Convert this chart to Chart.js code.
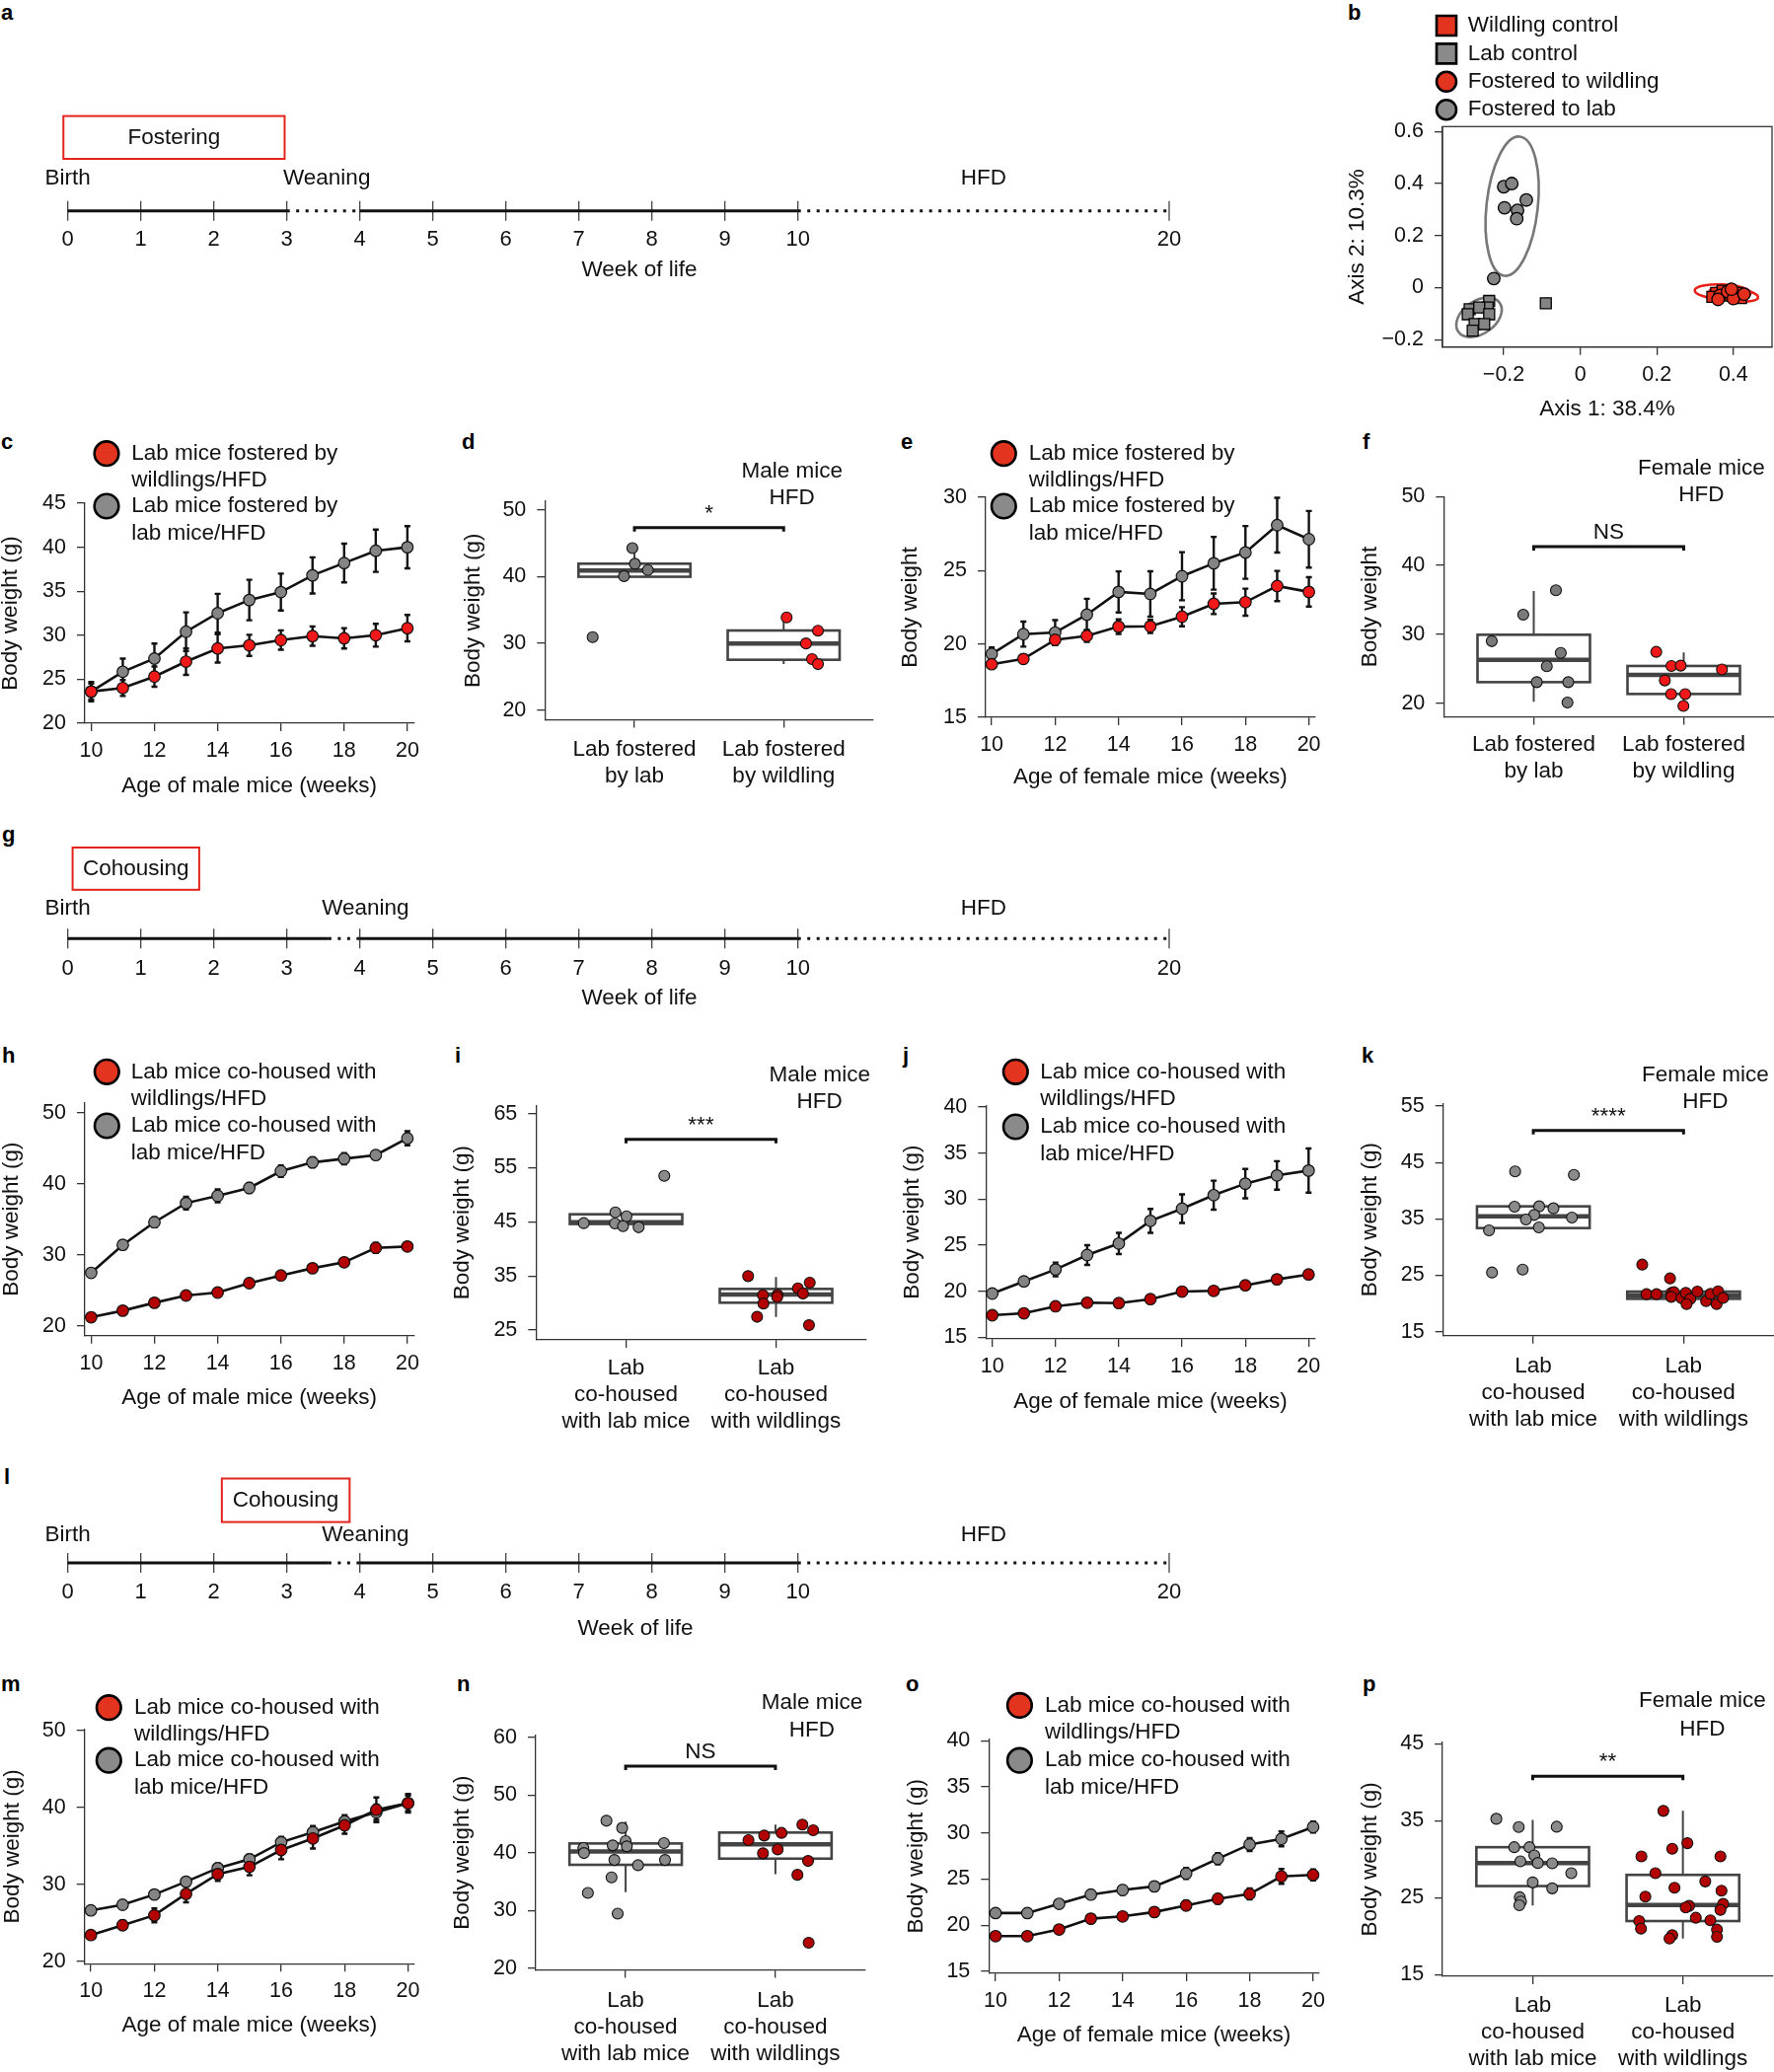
<!DOCTYPE html>
<html>
<head>
<meta charset="utf-8">
<title>Body weight of fostered and co-housed lab mice</title>
<script src="https://cdn.jsdelivr.net/npm/chart.js@4.4.1/dist/chart.umd.min.js"></script>
<style>
  html, body { margin: 0; padding: 0; background: #fff; }
  body { position: relative; width: 1798px; height: 2100px; overflow: hidden; font-family: "Liberation Sans", Arial, sans-serif; }
  canvas { position: absolute; }
  .tag { position: absolute; font-weight: bold; font-size: 22px; line-height: 22px; color: #000; }
</style>
</head>
<body>
<div class="tag" style="left:1px;top:2px">a</div>
<div class="tag" style="left:1366px;top:2px">b</div>
<div class="tag" style="left:1px;top:437px">c</div>
<div class="tag" style="left:468px;top:437px">d</div>
<div class="tag" style="left:913px;top:437px">e</div>
<div class="tag" style="left:1381px;top:437px">f</div>
<div class="tag" style="left:2px;top:835px">g</div>
<div class="tag" style="left:2px;top:1059px">h</div>
<div class="tag" style="left:461px;top:1059px">i</div>
<div class="tag" style="left:915px;top:1059px">j</div>
<div class="tag" style="left:1380px;top:1059px">k</div>
<div class="tag" style="left:4px;top:1486px">l</div>
<div class="tag" style="left:1px;top:1696px">m</div>
<div class="tag" style="left:463px;top:1696px">n</div>
<div class="tag" style="left:918px;top:1696px">o</div>
<div class="tag" style="left:1381px;top:1696px">p</div>
<script>
// ---- timelines (a, g, l) ----
const tlWeeks = [0, 1, 2, 3, 4, 5, 6, 7, 8, 9, 10, 20];
const aSolid = [[0, 3], [4, 10]];
const aDotted = [[3, 4], [10, 20]];
const coSolid = [[0, 3.57], [4, 10]];
const coDotted = [[3.57, 4], [10, 20]];

// ---- growth curves, weeks 10-20 ----
const weeks = [10, 11, 12, 13, 14, 15, 16, 17, 18, 19, 20];
const weekTicks = [10, 12, 14, 16, 18, 20];
const fosterLabels = [['Lab mice fostered by', 'wildlings/HFD'], ['Lab mice fostered by', 'lab mice/HFD']];
const cohouseLabels = [['Lab mice co-housed with', 'wildlings/HFD'], ['Lab mice co-housed with', 'lab mice/HFD']];

// c: fostering, male
const cWild = [23.6, 24.0, 25.3, 27.0, 28.5, 28.85, 29.45, 29.9, 29.65, 30.0, 30.8];
const cWildErr = [0.9, 0.9, 1.15, 1.5, 1.6, 1.2, 1.1, 1.1, 1.15, 1.3, 1.5];
const cLab = [23.6, 25.85, 27.35, 30.4, 32.5, 34.0, 34.9, 36.8, 38.2, 39.6, 40.0];
const cLabErr = [1.1, 1.5, 1.7, 2.2, 2.2, 2.3, 2.1, 2.05, 2.2, 2.4, 2.4];
const cTicks = [20, 25, 30, 35, 40, 45];
// e: fostering, female
const eWild = [18.62, 18.98, 20.28, 20.55, 21.18, 21.2, 21.86, 22.74, 22.85, 23.95, 23.55];
const eWildErr = [0.25, 0.3, 0.35, 0.4, 0.5, 0.45, 0.65, 0.7, 0.92, 1.03, 1.0];
const eLab = [19.32, 20.67, 20.78, 22.0, 23.55, 23.41, 24.62, 25.5, 26.24, 28.1, 27.14];
const eLabErr = [0.45, 0.85, 0.85, 1.08, 1.4, 1.55, 1.64, 1.8, 1.8, 1.87, 1.93];
const eTicks = [15, 20, 25, 30];
// h: co-housing from birth, male
const hWild = [21.2, 22.13, 23.24, 24.26, 24.68, 26.0, 27.08, 28.1, 28.94, 30.97, 31.16];
const hWildErr = [0.3, 0.3, 0.3, 0.3, 0.3, 0.3, 0.4, 0.3, 0.4, 0.7, 0.4];
const hLab = [27.45, 31.39, 34.58, 37.27, 38.29, 39.4, 41.76, 43.0, 43.52, 44.03, 46.39];
const hLabErr = [0.4, 0.6, 0.7, 0.9, 0.9, 0.7, 0.8, 0.7, 0.8, 0.4, 1.0];
const hTicks = [20, 30, 40, 50];
// j: co-housing from birth, female
const jWild = [17.39, 17.6, 18.36, 18.75, 18.71, 19.14, 19.96, 20.04, 20.64, 21.29, 21.82];
const jWildErr = [0.2, 0.2, 0.25, 0.2, 0.25, 0.25, 0.25, 0.25, 0.25, 0.25, 0.3];
const jLab = [19.75, 21.07, 22.36, 23.93, 25.18, 27.64, 28.96, 30.43, 31.68, 32.57, 33.1];
const jLabErr = [0.3, 0.4, 0.75, 1.07, 1.15, 1.3, 1.55, 1.57, 1.6, 1.55, 2.4];
const jTicks = [15, 20, 25, 30, 35, 40];
// m: co-housing from week 2, male
const mWild = [23.43, 24.71, 26.0, 28.79, 31.36, 32.3, 34.49, 35.99, 37.7, 39.72, 40.57];
const mWildErr = [0.4, 0.6, 0.9, 1.1, 0.9, 1.1, 1.2, 1.3, 1.1, 1.6, 1.2];
const mLab = [26.64, 27.37, 28.7, 30.37, 32.13, 33.29, 35.5, 36.8, 38.2, 39.4, 40.57];
const mLabErr = [0.3, 0.3, 0.4, 0.5, 0.6, 0.6, 0.7, 0.8, 0.8, 1.0, 1.0];
const mTicks = [20, 30, 40, 50];
// o: co-housing from week 2, female
const oWild = [18.82, 18.82, 19.54, 20.71, 20.96, 21.43, 22.14, 22.86, 23.39, 25.29, 25.46];
const oWildErr = [0.3, 0.3, 0.3, 0.3, 0.3, 0.4, 0.5, 0.5, 0.6, 0.8, 0.6];
const oLab = [21.32, 21.32, 22.32, 23.32, 23.82, 24.21, 25.61, 27.21, 28.75, 29.36, 30.64];
const oLabErr = [0.3, 0.3, 0.3, 0.4, 0.5, 0.5, 0.6, 0.6, 0.7, 0.8, 0.6];
const oTicks = [15, 20, 25, 30, 35, 40];

// ---- end-point weights (box panels); box = [q1, median, q3, whisker low, whisker high] ----
const fosterCats = [['Lab fostered', 'by lab'], ['Lab fostered', 'by wildling']];
const cohouseCats = [['Lab', 'co-housed', 'with lab mice'], ['Lab', 'co-housed', 'with wildlings']];

const dLabX = [0.72, 0.986, 1.003, 0.93, 1.09];
const dLabY = [30.95, 44.3, 41.95, 40.1, 41.0];
const dWildX = [2.02, 2.23, 2.15, 2.19, 2.23];
const dWildY = [33.9, 31.9, 30.0, 27.65, 26.9];
const dLabBox = [40.0, 40.95, 41.96, 40.0, 44.3];
const dWildBox = [27.55, 29.97, 31.94, 26.9, 33.9];
const dTicks = [20, 30, 40, 50];

const fLabX = [0.72, 0.93, 1.148, 1.18, 1.087, 1.02, 1.23, 1.225];
const fLabY = [29.0, 32.85, 36.4, 27.3, 25.35, 23.05, 23.05, 20.1];
const fWildX = [1.817, 1.918, 1.98, 2.255, 1.874, 1.916, 2.01, 1.998];
const fWildY = [27.45, 25.4, 25.45, 24.9, 23.3, 21.3, 21.3, 19.6];
const fLabBox = [23.05, 26.3, 29.93, 20.2, 36.3];
const fWildBox = [21.33, 24.1, 25.4, 19.6, 27.35];
const fTicks = [20, 30, 40, 50];

const iLabX = [0.718, 0.929, 1.003, 0.926, 0.98, 1.084, 1.255];
const iLabY = [44.76, 46.76, 46.03, 44.7, 44.2, 44.0, 53.5];
const iWildX = [1.814, 2.225, 2.146, 2.18, 1.913, 2.01, 2.008, 1.916, 1.874, 2.22];
const iWildY = [34.97, 33.75, 32.72, 31.75, 31.45, 31.5, 31.1, 29.9, 27.45, 25.9];
const iLabBox = [44.6, 44.95, 46.4, 44.0, 46.76];
const iWildBox = [30.05, 31.57, 32.6, 27.43, 34.8];
const iTicks = [25, 35, 45, 55, 65];

const kLabX = [0.879, 1.27, 0.875, 1.039, 1.134, 1.006, 0.951, 1.257, 1.037, 0.705, 0.725, 0.929];
const kLabY = [43.4, 42.81, 37.16, 37.22, 36.87, 35.7, 34.88, 35.23, 33.48, 32.96, 25.5, 26.0];
const kWildX = [1.725, 1.91, 1.753, 1.82, 1.92, 1.936, 1.918, 1.986, 2.015, 2.045, 2.02, 2.092, 2.15, 2.18, 2.23, 2.22, 2.263];
const kWildY = [26.9, 24.45, 21.65, 21.65, 21.88, 22.0, 21.18, 20.95, 21.88, 20.83, 19.9, 22.11, 20.42, 21.7, 22.17, 19.9, 21.0];
const kLabBox = [33.37, 35.47, 37.22, 33.37, 37.22];
const kWildBox = [20.83, 21.47, 22.11, 20.83, 22.11];
const kTicks = [15, 25, 35, 45, 55];

const nLabX = [0.872, 0.977, 0.718, 0.722, 0.914, 1.0, 1.008, 1.256, 1.263, 0.925, 1.083, 0.906, 0.748, 0.947];
const nLabY = [45.54, 44.29, 40.8, 39.94, 41.26, 42.0, 41.09, 41.66, 38.74, 38.74, 37.83, 35.71, 33.03, 29.43];
const nWildX = [1.82, 1.925, 2.041, 2.18, 2.252, 1.917, 2.015, 2.218, 2.147, 2.222];
const nWildY = [42.17, 42.97, 43.43, 44.86, 43.89, 39.89, 40.57, 38.57, 36.17, 24.4];
const nLabBox = [37.9, 40.23, 41.6, 33.14, 45.4];
const nWildBox = [38.97, 41.43, 43.49, 36.29, 44.86];
const nTicks = [20, 30, 40, 50, 60];

const pLabX = [0.758, 0.907, 1.16, 0.877, 0.978, 1.011, 0.918, 1.034, 1.13, 1.257, 1.0, 1.13, 0.914, 0.922, 0.911];
const pLabY = [35.27, 34.2, 34.24, 31.58, 31.58, 30.51, 29.74, 29.53, 29.48, 28.2, 27.0, 26.23, 25.07, 24.51, 24.04];
const pWildX = [1.87, 2.03, 1.929, 1.724, 2.25, 1.817, 2.149, 1.944, 2.257, 1.75, 2.268, 2.041, 2.019, 2.25, 2.086, 2.183, 1.709, 1.721, 2.227, 1.929, 1.911, 2.227];
const pWildY = [36.3, 32.1, 31.37, 30.38, 30.38, 28.2, 27.13, 26.31, 25.93, 25.16, 24.21, 23.95, 23.74, 23.44, 22.41, 22.07, 21.98, 21.0, 20.87, 20.14, 19.71, 19.93];
const pLabBox = [26.53, 29.53, 31.58, 24.0, 35.14];
const pWildBox = [21.98, 24.08, 27.98, 19.71, 36.3];
const pTicks = [15, 25, 35, 45];

// ---- b: PCoA ----
const bLegend = ['Wildling control', 'Lab control', 'Fostered to wildling', 'Fostered to lab'];
const bWildCtrlX = [0.355, 0.372, 0.39, 0.41, 0.345, 0.42];
const bWildCtrlY = [-0.02, -0.012, -0.03, -0.02, -0.035, -0.04];
const bLabCtrlX = [-0.238, -0.242, -0.289, -0.264, -0.238, -0.294, -0.276, -0.251, -0.281, -0.09];
const bLabCtrlY = [-0.051, -0.076, -0.083, -0.076, -0.102, -0.102, -0.14, -0.14, -0.165, -0.06];
const bFostWildX = [0.365, 0.385, 0.4, 0.428, 0.36, 0.395];
const bFostWildY = [-0.03, -0.015, -0.042, -0.025, -0.045, -0.006];
const bFostLabX = [-0.2, -0.179, -0.141, -0.198, -0.164, -0.166, -0.226];
const bFostLabY = [0.388, 0.4, 0.337, 0.307, 0.297, 0.265, 0.035];
const bTicksX = [-0.2, 0, 0.2, 0.4];
const bTicksY = [-0.2, 0, 0.2, 0.4, 0.6];

const FONT = '"Liberation Sans", Arial, Helvetica, sans-serif';
const INK = '#111';
const AXIS = '#333';
const RED = '#f01818';
const DARKRED = '#b30000';
const GRAY = '#848484';
const KEY_RED = '#e2341f';
const KEY_GRAY = '#8a8a8a';
const TL0 = 68.7, TLU = 74;   // pixel of week 0 and pixels per week on the timelines

const fmt = v => (v < 0 ? '\u2212' + Math.abs(v) : String(v));
const tl = w => (w <= 10 ? w : 10 + (w - 10) * 0.5085);

function canvasAt(b) {
  const c = document.createElement('canvas');
  c.width = b.w;
  c.height = b.h;
  Object.assign(c.style, { left: b.x + 'px', top: b.y + 'px', width: b.w + 'px', height: b.h + 'px' });
  document.body.appendChild(c);
  return c;
}

function scaleOpts(o) {
  if (o.display === false) return { type: 'linear', display: false, min: o.min, max: o.max };
  return {
    type: 'linear', min: o.min, max: o.max,
    afterBuildTicks: s => { s.ticks = o.ticks.map(v => ({ value: o.map ? o.map(v) : v })); },
    afterFit: s => { if (s.isHorizontal()) s.height = o.size; else s.width = o.size; },
    border: { display: o.border !== false, color: AXIS, width: 1.3 },
    grid: { display: o.tick !== false, drawOnChartArea: false, drawTicks: o.tick !== false, tickLength: 8, color: AXIS, lineWidth: 1.3 },
    ticks: {
      autoSkip: false, maxRotation: 0, minRotation: 0, padding: o.pad, color: INK,
      font: { family: FONT, size: o.fs || 21.5, lineHeight: o.lh || 1.2 },
      callback: (v, i) => (o.labels ? o.labels[i] : fmt(v))
    },
    title: { display: !!o.title, text: o.title || '', color: INK, padding: 0, font: { family: FONT, size: 22.5, lineHeight: 1 } }
  };
}

function extras(p) {
  const ox = p.box.x, oy = p.box.y;
  function write(ctx, s, x, y, align) {
    ctx.font = '22.5px ' + FONT;
    ctx.fillStyle = INK;
    ctx.textAlign = align || 'center';
    ctx.textBaseline = 'middle';
    ctx.fillText(s, x, y);
  }
  return {
    id: 'extras',
    beforeDatasetsDraw(chart) {
      const ctx = chart.ctx;
      const X = v => chart.scales.x.getPixelForValue(v);
      const Y = v => chart.scales.y.getPixelForValue(v);
      ctx.save();
      (p.boxes || []).forEach(bx => {
        const [q1, med, q3, lo, hi] = bx.stats;
        const c = X(bx.at), l = X(bx.at - 0.375), r = X(bx.at + 0.375);
        ctx.strokeStyle = '#444';
        ctx.lineWidth = 2;
        ctx.beginPath();
        ctx.moveTo(c, Y(hi)); ctx.lineTo(c, Y(q3));
        ctx.moveTo(c, Y(q1)); ctx.lineTo(c, Y(lo));
        ctx.stroke();
        ctx.fillStyle = '#fff';
        ctx.fillRect(l, Y(q3), r - l, Y(q1) - Y(q3));
        if (bx.through) {
          ctx.beginPath(); ctx.moveTo(c, Y(q3)); ctx.lineTo(c, Y(q1)); ctx.stroke();
        }
        ctx.lineWidth = 2.6;
        ctx.strokeRect(l, Y(q3), r - l, Y(q1) - Y(q3));
        ctx.lineWidth = 4.5;
        ctx.beginPath(); ctx.moveTo(l, Y(med)); ctx.lineTo(r, Y(med)); ctx.stroke();
      });
      (p.errors || []).forEach(e => {
        ctx.strokeStyle = INK;
        ctx.lineWidth = 2.4;
        ctx.beginPath();
        weeks.forEach((w, i) => {
          const x = X(w), t = Y(e.y[i] + e.err[i]), b = Y(e.y[i] - e.err[i]);
          ctx.moveTo(x, t); ctx.lineTo(x, b);
          ctx.moveTo(x - 3, t); ctx.lineTo(x + 3, t);
          ctx.moveTo(x - 3, b); ctx.lineTo(x + 3, b);
        });
        ctx.stroke();
      });
      (p.ellipses || []).forEach(el => {
        const rx = Math.abs(X(el.cx + el.rx) - X(el.cx));
        const ry = Math.abs(Y(el.cy + el.ry) - Y(el.cy));
        ctx.strokeStyle = el.color;
        ctx.lineWidth = 2.6;
        ctx.beginPath();
        ctx.ellipse(X(el.cx), Y(el.cy), rx, ry, el.rot, 0, Math.PI * 2);
        ctx.stroke();
      });
      if (p.frame) {
        const a = chart.chartArea;
        ctx.strokeStyle = AXIS;
        ctx.lineWidth = 1.3;
        ctx.strokeRect(a.left, a.top, a.right - a.left, a.bottom - a.top);
      }
      ctx.restore();
    },
    afterDraw(chart) {
      const ctx = chart.ctx;
      const X = v => chart.scales.x.getPixelForValue(v);
      const Y = v => chart.scales.y.getPixelForValue(v);
      ctx.save();
      if (p.bracket) {
        const y = Y(p.bracket.y), l = X(1), r = X(2);
        ctx.strokeStyle = INK;
        ctx.lineWidth = 3;
        ctx.beginPath();
        ctx.moveTo(l, y + 4); ctx.lineTo(l, y); ctx.lineTo(r, y); ctx.lineTo(r, y + 4);
        ctx.stroke();
        write(ctx, p.bracket.label, (l + r) / 2, y - 14);
      }
      (p.notes || []).forEach(n => write(ctx, n[0], n[1] - ox, n[2] - oy));
      if (p.key) {
        const k = p.key;
        k.items.forEach((it, i) => {
          const cx = k.mx - ox, cy = k.my + i * k.gap - oy;
          ctx.beginPath();
          if (it.shape === 'rect') ctx.rect(cx - k.r, cy - k.r, 2 * k.r, 2 * k.r);
          else ctx.arc(cx, cy, k.r, 0, Math.PI * 2);
          ctx.fillStyle = it.color;
          ctx.fill();
          ctx.lineWidth = k.bw;
          ctx.strokeStyle = '#000';
          ctx.stroke();
          const lines = Array.isArray(it.label) ? it.label : [it.label];
          lines.forEach((s, j) => write(ctx, s, k.tx - ox, cy + j * 27.5, 'left'));
        });
      }
      if (p.phase) {
        const ph = p.phase, l = X(tl(ph.from)), r = X(tl(ph.to));
        ctx.strokeStyle = '#e3241c';
        ctx.lineWidth = 2;
        ctx.strokeRect(l, ph.top - oy, r - l, ph.bottom - ph.top);
        write(ctx, ph.text, (l + r) / 2, (ph.top + ph.bottom) / 2 - oy);
      }
      (p.marks || []).forEach(m => write(ctx, m.text, X(tl(m.at)), m.y - oy, m.align));
      ctx.restore();
    }
  };
}

function makeChart(p, datasets, xo, yo) {
  const b = p.box, a = p.area;
  xo.size = b.y + b.h - a.b;
  if (yo.display !== false) yo.size = a.l - b.x;
  const padding = { top: a.t - b.y, right: b.x + b.w - a.r, bottom: 0, left: yo.display === false ? a.l - b.x : 0 };
  datasets.forEach(d => { d.clip = false; });
  return new Chart(canvasAt(b), {
    type: 'scatter',
    data: { datasets },
    options: {
      responsive: false, animation: false, devicePixelRatio: 1, events: [],
      layout: { padding },
      plugins: { legend: { display: false }, tooltip: { enabled: false } },
      scales: { x: scaleOpts(xo), y: scaleOpts(yo) }
    },
    plugins: [extras(p)]
  });
}

function timelinePanel(p) {
  const seg = (s, dash) => ({
    data: [{ x: tl(s[0]), y: 0 }, { x: tl(s[1]), y: 0 }],
    showLine: true, borderColor: INK, borderWidth: 3, borderDash: dash, borderCapStyle: 'butt', pointRadius: 0
  });
  const sets = p.solid.map(s => seg(s, [])).concat(p.dotted.map(s => seg(s, [3, 6.5])));
  sets.push({
    data: tlWeeks.map(w => ({ x: tl(w), y: 0 })),
    pointStyle: 'line', pointRotation: 90, pointRadius: 10, pointBorderColor: '#333', pointBorderWidth: 1.2
  });
  p.area = { l: 40, r: 2 * p.center - 40, t: p.line - 10, b: p.line + 10 };
  return makeChart(p, sets,
    { min: -(TL0 - 40) / TLU, max: (p.area.r - TL0) / TLU, ticks: tlWeeks, map: tl, labels: tlWeeks.map(String),
      pad: p.pad, fs: 22, tick: false, border: false, title: 'Week of life' },
    { min: -1, max: 1, display: false });
}

function linePanel(p) {
  const series = (means, fill) => ({
    data: weeks.map((w, i) => ({ x: w, y: means[i] })),
    showLine: true, borderColor: INK, borderWidth: 2.6,
    pointRadius: 5.8, pointBackgroundColor: fill, pointBorderColor: INK, pointBorderWidth: 1.2
  });
  p.errors = [{ y: p.wild, err: p.wildErr }, { y: p.lab, err: p.labErr }];
  p.key = Object.assign({ items: [{ label: p.labels[0], color: KEY_RED }, { label: p.labels[1], color: KEY_GRAY }], r: 12.3, bw: 2.6 }, p.key);
  return makeChart(p, [series(p.wild, p.red), series(p.lab, GRAY)],
    { min: p.x[0], max: p.x[1], ticks: weekTicks, pad: 7, title: p.xTitle },
    { min: p.y[0], max: p.y[1], ticks: p.yTicks, pad: 11, title: p.yTitle });
}

function boxPanel(p) {
  const pts = (xs, ys, fill) => ({
    data: xs.map((x, i) => ({ x, y: ys[i] })),
    pointRadius: 5.5, pointBackgroundColor: fill, pointBorderColor: INK, pointBorderWidth: 1.1
  });
  p.boxes = [{ at: 1, stats: p.labBox }, { at: 2, stats: p.wildBox, through: p.through }];
  return makeChart(p, [pts(p.labX, p.labY, p.gray), pts(p.wildX, p.wildY, p.red)],
    { min: 0.4, max: 2.6, ticks: [1, 2], labels: p.cats, pad: p.xpad, fs: 22.5, lh: 1.2 },
    { min: p.y[0], max: p.y[1], ticks: p.yTicks, pad: 11, title: p.yTitle });
}

// a, g, l
timelinePanel({
  box: { x: 0, y: 100, w: 1300, h: 185 }, line: 213.8, center: 648, pad: 6,
  solid: aSolid, dotted: aDotted,
  phase: { from: -0.06, to: 2.97, top: 117.6, bottom: 161, text: 'Fostering' },
  marks: [{ text: 'Birth', at: 0, y: 180.4 }, { text: 'Weaning', at: 2.95, y: 180.4, align: 'left' }, { text: 'HFD', at: 15, y: 180.4 }]
});
timelinePanel({
  box: { x: 0, y: 840, w: 1300, h: 183 }, line: 951.3, center: 648, pad: 7.6,
  solid: coSolid, dotted: coDotted,
  phase: { from: 0.066, to: 1.8, top: 859, bottom: 901.8, text: 'Cohousing' },
  marks: [{ text: 'Birth', at: 0, y: 920.6 }, { text: 'Weaning', at: 3.48, y: 920.6, align: 'left' }, { text: 'HFD', at: 15, y: 920.6 }]
});
timelinePanel({
  box: { x: 0, y: 1480, w: 1300, h: 182 }, line: 1584.1, center: 644, pad: 6.3,
  solid: coSolid, dotted: coDotted,
  phase: { from: 2.11, to: 3.86, top: 1498.5, bottom: 1542.6, text: 'Cohousing' },
  marks: [{ text: 'Birth', at: 0, y: 1556 }, { text: 'Weaning', at: 3.48, y: 1556, align: 'left' }, { text: 'HFD', at: 15, y: 1556 }]
});

// b
(function () {
  const pts = (xs, ys, fill, style, r) => ({
    data: xs.map((x, i) => ({ x, y: ys[i] })),
    pointStyle: style, pointRadius: r, pointBackgroundColor: fill, pointBorderColor: '#000', pointBorderWidth: 1.3
  });
  const p = {
    box: { x: 1365, y: 0, w: 445, h: 426 }, area: { l: 1462, t: 128.3, r: 1796, b: 351.7 }, frame: true,
    ellipses: [
      { cx: -0.178, cy: 0.313, rx: 0.067, ry: 0.269, rot: 0.11, color: '#777' },
      { cx: -0.2645, cy: -0.114, rx: 0.066, ry: 0.063, rot: -0.61, color: '#777' },
      { cx: 0.372, cy: -0.016, rx: 0.073, ry: 0.028, rot: 0.05, color: '#e8201a' },
      { cx: 0.401, cy: -0.026, rx: 0.064, ry: 0.025, rot: 0.13, color: '#e8201a' }
    ],
    key: {
      items: [
        { label: bLegend[0], color: KEY_RED, shape: 'rect' }, { label: bLegend[1], color: KEY_GRAY, shape: 'rect' },
        { label: bLegend[2], color: KEY_RED }, { label: bLegend[3], color: KEY_GRAY }
      ],
      mx: 1466, my: 26, gap: 28.4, tx: 1487.7, r: 10, bw: 2.6
    }
  };
  makeChart(p, [
    pts(bFostLabX, bFostLabY, GRAY, 'circle', 6.3),
    pts(bLabCtrlX, bLabCtrlY, GRAY, 'rect', 7.8),
    pts(bFostWildX, bFostWildY, '#e3301d', 'circle', 6.3),
    pts(bWildCtrlX, bWildCtrlY, '#e3301d', 'rect', 7.8)
  ],
  { min: -0.36, max: 0.501, ticks: bTicksX, pad: 7.4, title: 'Axis 1: 38.4%' },
  { min: -0.228, max: 0.619, ticks: bTicksY, pad: 11, title: 'Axis 2: 10.3%' });
})();

// c, e, h, j, m, o
linePanel({
  box: { x: 0, y: 440, w: 440, h: 368 }, area: { l: 86, t: 510, r: 419.3, b: 733 },
  x: [9.8, 20.2], y: [20, 45], yTicks: cTicks, red: RED, labels: fosterLabels,
  wild: cWild, wildErr: cWildErr, lab: cLab, labErr: cLabErr,
  xTitle: 'Age of male mice (weeks)', yTitle: 'Body weight (g)',
  key: { mx: 108, my: 459.7, tx: 133.3, gap: 53.3 }
});
linePanel({
  box: { x: 912, y: 440, w: 440, h: 359 }, area: { l: 999, t: 504, r: 1332.7, b: 727 },
  x: [9.81, 20.19], y: [15, 30], yTicks: eTicks, red: RED, labels: fosterLabels,
  wild: eWild, wildErr: eWildErr, lab: eLab, labErr: eLabErr,
  xTitle: 'Age of female mice (weeks)', yTitle: 'Body weight',
  key: { mx: 1017.3, my: 459.7, tx: 1042.7, gap: 53.3 }
});
linePanel({
  box: { x: 1, y: 1062, w: 439, h: 366 }, area: { l: 86, t: 1117.7, r: 419.3, b: 1353.7 },
  x: [9.8, 20.2], y: [18.61, 51.39], yTicks: hTicks, red: DARKRED, labels: cohouseLabels,
  wild: hWild, wildErr: hWildErr, lab: hLab, labErr: hLabErr,
  xTitle: 'Age of male mice (weeks)', yTitle: 'Body weight (g)',
  key: { mx: 108.3, my: 1086.3, tx: 132.7, gap: 54.7 }
});
linePanel({
  box: { x: 914, y: 1062, w: 440, h: 370 }, area: { l: 999.3, t: 1120.3, r: 1332.7, b: 1357 },
  x: [9.8, 20.2], y: [14.82, 40.18], yTicks: jTicks, red: DARKRED, labels: cohouseLabels,
  wild: jWild, wildErr: jWildErr, lab: jLab, labErr: jLabErr,
  xTitle: 'Age of female mice (weeks)', yTitle: 'Body weight (g)',
  key: { mx: 1029.3, my: 1086.3, tx: 1054.3, gap: 55.7 }
});
linePanel({
  box: { x: 2, y: 1700, w: 438, h: 364 }, area: { l: 85.7, t: 1752.5, r: 420, b: 1990.3 },
  x: [9.8, 20.2], y: [19.7, 50.2], yTicks: mTicks, red: DARKRED, labels: cohouseLabels,
  wild: mWild, wildErr: mWildErr, lab: mLab, labErr: mLabErr,
  xTitle: 'Age of male mice (weeks)', yTitle: 'Body weight (g)',
  key: { mx: 110.3, my: 1730.7, tx: 136, gap: 53.5 }
});
linePanel({
  box: { x: 918, y: 1700, w: 440, h: 374 }, area: { l: 1002.3, t: 1762.5, r: 1336.7, b: 2000 },
  x: [9.79, 20.18], y: [14.79, 40.18], yTicks: oTicks, red: DARKRED, labels: cohouseLabels,
  wild: oWild, wildErr: oWildErr, lab: oLab, labErr: oLabErr,
  xTitle: 'Age of female mice (weeks)', yTitle: 'Body weight (g)',
  key: { mx: 1033.4, my: 1728.4, tx: 1058.9, gap: 55.8 }
});

// d, f, i, k, n, p
boxPanel({
  box: { x: 469, y: 440, w: 431, h: 362 }, area: { l: 552.3, t: 508, r: 885, b: 729.5 },
  y: [18.55, 51.33], yTicks: dTicks, cats: fosterCats, xpad: 8.7, yTitle: 'Body weight (g)',
  labX: dLabX, labY: dLabY, wildX: dWildX, wildY: dWildY, labBox: dLabBox, wildBox: dWildBox,
  gray: '#7a7a7a', red: RED, bracket: { y: 47.38, label: '*' },
  notes: [['Male mice', 802.7, 478], ['HFD', 802.7, 504.7]]
});
boxPanel({
  box: { x: 1378, y: 440, w: 432, h: 362 }, area: { l: 1463.3, t: 503.3, r: 1797.7, b: 726.6 },
  y: [18, 50], yTicks: fTicks, cats: fosterCats, xpad: 6.6, yTitle: 'Body weight',
  labX: fLabX, labY: fLabY, wildX: fWildX, wildY: fWildY, labBox: fLabBox, wildBox: fWildBox,
  gray: '#7a7a7a', red: RED, bracket: { y: 42.74, label: 'NS' },
  notes: [['Female mice', 1724.3, 474.7], ['HFD', 1724.3, 502]]
});
boxPanel({
  box: { x: 458, y: 1062, w: 440, h: 395 }, area: { l: 543.3, t: 1120.3, r: 877.7, b: 1358 },
  y: [23.18, 66.53], yTicks: iTicks, cats: cohouseCats, xpad: 7.5, yTitle: 'Body weight (g)',
  labX: iLabX, labY: iLabY, wildX: iWildX, wildY: iWildY, labBox: iLabBox, wildBox: iWildBox, through: true,
  gray: '#8a8a8a', red: DARKRED, bracket: { y: 60.26, label: '***' },
  notes: [['Male mice', 830.7, 1089.3], ['HFD', 830.7, 1117]]
});
boxPanel({
  box: { x: 1378, y: 1062, w: 432, h: 395 }, area: { l: 1462.7, t: 1118.7, r: 1797.7, b: 1353.7 },
  y: [14.3, 55.4], yTicks: kTicks, cats: cohouseCats, xpad: 10, yTitle: 'Body weight (g)',
  labX: kLabX, labY: kLabY, wildX: kWildX, wildY: kWildY, labBox: kLabBox, wildBox: kWildBox,
  gray: '#8a8a8a', red: DARKRED, bracket: { y: 50.68, label: '****' },
  notes: [['Female mice', 1728.3, 1089.3], ['HFD', 1728.3, 1117]]
});
boxPanel({
  box: { x: 458, y: 1700, w: 440, h: 400 }, area: { l: 543, t: 1759, r: 877, b: 1996.4 },
  y: [19.71, 60.3], yTicks: nTicks, cats: cohouseCats, xpad: 10, yTitle: 'Body weight (g)',
  labX: nLabX, labY: nLabY, wildX: nWildX, wildY: nWildY, labBox: nLabBox, wildBox: nWildBox,
  gray: '#8a8a8a', red: DARKRED, bracket: { y: 55.02, label: 'NS' },
  notes: [['Male mice', 822.9, 1725.7], ['HFD', 822.9, 1754.1]]
});
boxPanel({
  box: { x: 1378, y: 1700, w: 432, h: 400 }, area: { l: 1462.1, t: 1765.8, r: 1797, b: 2003 },
  y: [14.8, 45.22], yTicks: pTicks, cats: cohouseCats, xpad: 8.5, yTitle: 'Body weight (g)',
  labX: pLabX, labY: pLabY, wildX: pWildX, wildY: pWildY, labBox: pLabBox, wildBox: pWildBox,
  gray: '#8a8a8a', red: DARKRED, bracket: { y: 40.81, label: '**' },
  notes: [['Female mice', 1725.4, 1724], ['HFD', 1725.4, 1752.5]]
});
</script>
</body>
</html>
